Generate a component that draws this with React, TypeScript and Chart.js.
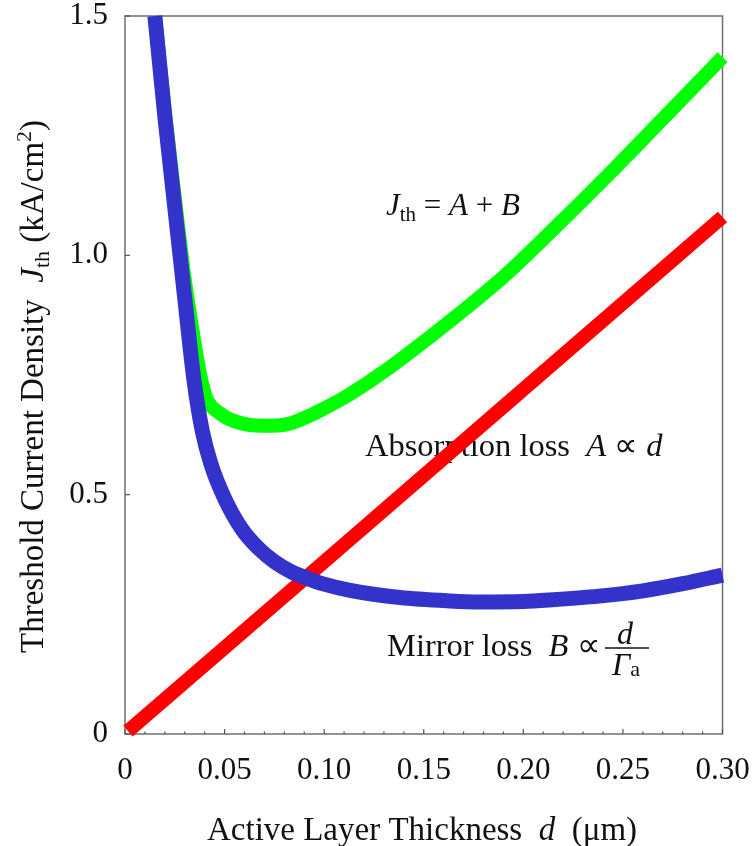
import React, { useEffect, useRef } from "react";
import { Chart, registerables } from "chart.js";

Chart.register(...registerables);

// Absorption loss A (red), proportional to d
const absorptionThickness = [0.0015, 0.1, 0.2, 0.3];
const absorptionLoss = [0.006, 0.36, 0.72, 1.08];

// Mirror loss B (blue)
const mirrorThickness = [0.015, 0.02, 0.025, 0.03, 0.0346, 0.0387, 0.043, 0.0497, 0.059, 0.067, 0.075, 0.083, 0.091, 0.1, 0.113, 0.138, 0.163, 0.178, 0.2, 0.213, 0.238, 0.26, 0.28, 0.3];
const mirrorLoss = [1.5, 1.29, 1.1, 0.91, 0.74, 0.635, 0.566, 0.495, 0.426, 0.388, 0.36, 0.34, 0.326, 0.313, 0.3, 0.285, 0.278, 0.276, 0.277, 0.28, 0.288, 0.299, 0.314, 0.332];

// Total Jth = A + B (green)
const totalThickness = [0.015, 0.02, 0.025, 0.03, 0.034, 0.038, 0.041, 0.047, 0.054, 0.062, 0.071, 0.08, 0.09, 0.1, 0.113, 0.13, 0.163, 0.19, 0.213, 0.24, 0.27, 0.3];
const totalJth = [1.5, 1.3, 1.12, 0.95, 0.84, 0.745, 0.7, 0.672, 0.655, 0.646, 0.644, 0.646, 0.66, 0.68, 0.71, 0.757, 0.862, 0.955, 1.046, 1.157, 1.285, 1.414];

const xTicks = [0, 0.05, 0.1, 0.15, 0.2, 0.25, 0.3];
const yTicks = [0, 0.5, 1.0, 1.5];

const FONT = "'Liberation Serif', 'Times New Roman', serif";

type Run = { t: string; it?: boolean; sz: number; dy?: number };

function drawRuns(ctx: CanvasRenderingContext2D, x: number, y: number, runs: Run[]) {
  let cx = x;
  for (const r of runs) {
    ctx.font = `${r.it ? "italic " : ""}${r.sz}px ${FONT}`;
    ctx.fillText(r.t, cx, y + (r.dy || 0));
    cx += ctx.measureText(r.t).width;
  }
  return cx;
}

const decorPlugin = {
  id: "decor",
  beforeDatasetsDraw(chart: any) {
    const ctx: CanvasRenderingContext2D = chart.ctx;
    const { left, right, top, bottom } = chart.chartArea;
    const xs = chart.scales.x;
    const ys = chart.scales.y;
    ctx.save();
    // frame
    ctx.strokeStyle = "#707070";
    ctx.lineWidth = 1.5;
    ctx.strokeRect(left, top, right - left, bottom - top);
    // ticks
    ctx.strokeStyle = "#555";
    ctx.lineWidth = 1.2;
    for (let i = 0; i <= 30; i++) {
      const v = i / 100;
      const px = xs.getPixelForValue(v);
      const len = i % 5 === 0 ? 5 : 2.5;
      ctx.beginPath();
      ctx.moveTo(px, bottom);
      ctx.lineTo(px, bottom - len);
      ctx.stroke();
    }
    for (const v of yTicks) {
      const py = ys.getPixelForValue(v);
      ctx.beginPath();
      ctx.moveTo(left, py);
      ctx.lineTo(left + 5, py);
      ctx.stroke();
    }
    ctx.fillStyle = "#111";
    ctx.textBaseline = "alphabetic";
    ctx.textAlign = "left";
    // x title
    drawRuns(ctx, 207, 840, [
      { t: "Active Layer Thickness  ", sz: 33 },
      { t: "d", it: true, sz: 33 },
      { t: "  (\u03bcm)", sz: 33 },
    ]);
    // y title
    ctx.save();
    ctx.translate(43, 653);
    ctx.rotate(-Math.PI / 2);
    drawRuns(ctx, 0, 0, [
      { t: "Threshold Current Density  ", sz: 33 },
      { t: "J", it: true, sz: 33 },
      { t: "th", sz: 22, dy: 6 },
      { t: " (kA/cm", sz: 33 },
      { t: "2", sz: 22, dy: -12 },
      { t: ")", sz: 33 },
    ]);
    ctx.restore();
    // annotations
    drawRuns(ctx, 386, 215, [
      { t: "J", it: true, sz: 31 },
      { t: "th", sz: 21, dy: 6 },
      { t: " = ", sz: 31 },
      { t: "A", it: true, sz: 31 },
      { t: " + ", sz: 31 },
      { t: "B", it: true, sz: 31 },
    ]);
    drawRuns(ctx, 365, 456, [
      { t: "Absorption loss  ", sz: 32.5 },
      { t: "A", it: true, sz: 32.5 },
      { t: " \u221d ", sz: 32.5 },
      { t: "d", it: true, sz: 32.5 },
    ]);
    drawRuns(ctx, 387, 656, [
      { t: "Mirror loss  ", sz: 32.5 },
      { t: "B", it: true, sz: 32.5 },
      { t: " \u221d", sz: 32.5 },
    ]);
    // fraction d / Γa
    ctx.strokeStyle = "#111";
    ctx.lineWidth = 1.3;
    ctx.beginPath();
    ctx.moveTo(605, 648);
    ctx.lineTo(649, 648);
    ctx.stroke();
    drawRuns(ctx, 617, 644, [{ t: "d", it: true, sz: 32 }]);
    drawRuns(ctx, 612, 675, [
      { t: "\u0393", it: true, sz: 32 },
      { t: "a", sz: 22, dy: 1 },
    ]);
    ctx.restore();
  },
};

export default function App() {
  const ref = useRef<HTMLCanvasElement | null>(null);
  useEffect(() => {
    if (!ref.current) return;
    const mk = (xs: number[], ys: number[]) => xs.map((x, i) => ({ x, y: ys[i] }));
    const chart = new Chart(ref.current, {
      type: "line",
      data: {
        datasets: [
          {
            label: "Mirror loss",
            data: mk(mirrorThickness, mirrorLoss),
            borderColor: "#3333cc",
            borderWidth: 15,
            pointRadius: 0,
            cubicInterpolationMode: "monotone",
            clip: false,
            borderCapStyle: "butt",
          },
          {
            label: "Jth",
            data: mk(totalThickness, totalJth),
            borderColor: "#00ff00",
            borderWidth: 14,
            pointRadius: 0,
            cubicInterpolationMode: "monotone",
            clip: false,
            borderCapStyle: "butt",
          },
          {
            label: "Absorption loss",
            data: mk(absorptionThickness, absorptionLoss),
            borderColor: "#ff0000",
            borderWidth: 14,
            pointRadius: 0,
            clip: false,
            borderCapStyle: "butt",
          },
        ],
      } as any,
      options: {
        responsive: false,
        animation: false,
        devicePixelRatio: 1,
        layout: { padding: { top: 16, right: 31.5, left: 0, bottom: 0 } },
        plugins: { legend: { display: false }, tooltip: { enabled: false } },
        scales: {
          x: {
            type: "linear",
            min: 0,
            max: 0.3,
            afterFit: (s: any) => {
              s.height = 112;
              s.paddingLeft = 0;
              s.paddingRight = 0;
              s.paddingTop = 0;
              s.paddingBottom = 0;
            },
            afterBuildTicks: (s: any) => {
              s.ticks = xTicks.map((v) => ({ value: v }));
            },
            grid: { display: false, drawTicks: false },
            border: { display: false },
            ticks: {
              padding: 21,
              color: "#111",
              font: { family: FONT, size: 31, lineHeight: 1 },
              callback: (v: any) => (Number(v) === 0 ? "0" : Number(v).toFixed(2)),
              maxRotation: 0,
              autoSkip: false,
            },
          },
          y: {
            type: "linear",
            min: 0,
            max: 1.5,
            afterFit: (s: any) => {
              s.width = 125;
              s.paddingLeft = 0;
              s.paddingRight = 0;
              s.paddingTop = 0;
              s.paddingBottom = 0;
            },
            afterBuildTicks: (s: any) => {
              s.ticks = yTicks.map((v) => ({ value: v }));
            },
            grid: { display: false, drawTicks: false },
            border: { display: false },
            ticks: {
              padding: 17,
              color: "#111",
              font: { family: FONT, size: 31, lineHeight: 1 },
              callback: (v: any) => (Number(v) === 0 ? "0" : Number(v).toFixed(1)),
              autoSkip: false,
            },
          },
        },
      } as any,
      plugins: [decorPlugin],
    });
    return () => chart.destroy();
  }, []);
  return (
    <div style={{ position: "absolute", left: 0, top: 0, width: 754, height: 846, background: "#fff" }}>
      <canvas ref={ref} width={754} height={846} style={{ width: 754, height: 846, display: "block" }} />
    </div>
  );
}
